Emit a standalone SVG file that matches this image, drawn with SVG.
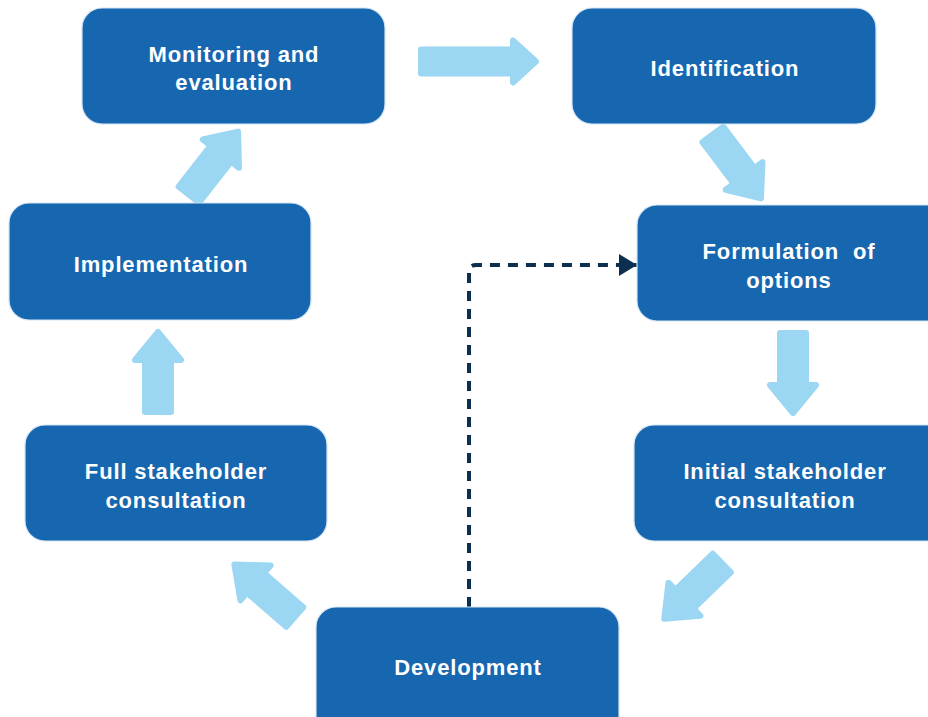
<svg xmlns="http://www.w3.org/2000/svg" width="928" height="717" viewBox="0 0 928 717">
  <style>
    .box { fill: #1667b0; stroke: #d4e4f3; stroke-width: 1.2; }
    .lbl { fill: #ffffff; font-family: "Liberation Sans", Arial, sans-serif; font-weight: bold; font-size: 22px; letter-spacing: 0.85px; text-anchor: middle; }
    .arr { fill: #9bd6f3; stroke: #9bd6f3; stroke-width: 6; stroke-linejoin: round; }
    .dash { fill: none; stroke: #0d2f4f; stroke-width: 4; stroke-dasharray: 10 8; }
  </style>
  <defs>
    <!-- block arrow pointing right, origin at tail centre -->
    <path id="blk" class="arr" d="M3,-13 H55 V-23 L83,0 L55,23 V13 H3 Z"/>
    <marker id="head" viewBox="0 0 18 22" refX="18" refY="11" markerWidth="18" markerHeight="22" markerUnits="userSpaceOnUse" orient="auto">
      <path d="M0,0 L18,11 L0,22 Z" fill="#0d2f4f"/>
    </marker>
  </defs>
  <rect width="928" height="717" fill="#ffffff"/>

  <g id="flow-arrows">
    <path class="arr" transform="translate(418,61.5)" d="M3,-12 H95 V-21 L118,0 L95,21 V12 H3 Z"/>
    <use href="#blk" transform="translate(711,132) rotate(53)"/>
    <use href="#blk" transform="translate(793,330) rotate(90)"/>
    <use href="#blk" transform="translate(724,561) rotate(136)"/>
    <use href="#blk" transform="translate(297,619) rotate(221)"/>
    <use href="#blk" transform="translate(158,415) rotate(-90)"/>
    <use href="#blk" transform="translate(187,197) rotate(-52)"/>
  </g>

  <g id="connectors">
    <path class="dash" d="M469,607 V272 Q469,265 476,265 H637" marker-end="url(#head)"/>
  </g>

  <g id="monitoring">
    <rect class="box" x="82" y="8" width="303" height="116" rx="20"/>
    <text class="lbl" x="234" y="62">Monitoring and</text>
    <text class="lbl" x="234" y="90">evaluation</text>
  </g>
  <g id="identification">
    <rect class="box" x="572" y="8" width="304" height="116" rx="20"/>
    <text class="lbl" x="725" y="76">Identification</text>
  </g>
  <g id="implementation">
    <rect class="box" x="9" y="203" width="302" height="117" rx="20"/>
    <text class="lbl" x="161" y="272">Implementation</text>
  </g>
  <g id="formulation">
    <rect class="box" x="637" y="205" width="320" height="116" rx="20"/>
    <text class="lbl" x="789" y="259">Formulation&#160; of</text>
    <text class="lbl" x="789" y="288">options</text>
  </g>
  <g id="initial-consultation">
    <rect class="box" x="634" y="425" width="320" height="116" rx="20"/>
    <text class="lbl" x="785" y="479">Initial stakeholder</text>
    <text class="lbl" x="785" y="508">consultation</text>
  </g>
  <g id="full-consultation">
    <rect class="box" x="25" y="425" width="302" height="116" rx="20"/>
    <text class="lbl" x="176" y="479">Full stakeholder</text>
    <text class="lbl" x="176" y="508">consultation</text>
  </g>
  <g id="development">
    <rect class="box" x="316" y="607" width="303" height="140" rx="20"/>
    <text class="lbl" x="468" y="675">Development</text>
  </g>
</svg>
